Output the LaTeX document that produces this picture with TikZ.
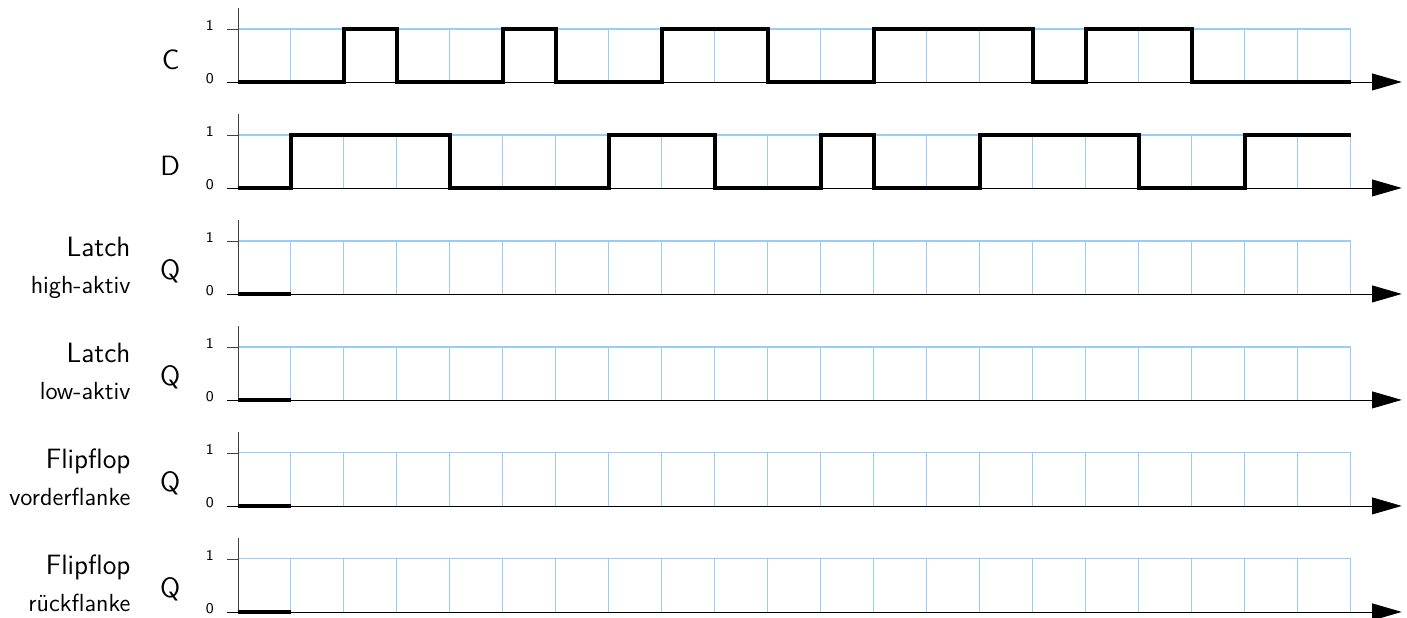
\documentclass[tikz,border=0pt]{standalone}
\usepackage{fontspec}
\usepackage{xcolor}
\usepackage{tikz}
\usetikzlibrary{arrows.meta}
\renewcommand{\familydefault}{\sfdefault}
\definecolor{gridblue}{RGB}{150,205,250}
\tikzset{
  timeaxis/.style={-{Triangle[length=5.6mm, width=3.2mm]}, thin, black},
  levelaxis/.style={thin, black!75},
  gridline/.style={gridblue, line width=0.6pt},
  signal/.style={line width=1.9pt, black},
  lvl/.style={font=\footnotesize, anchor=east, inner sep=0pt},
  sig/.style={font=\fontsize{15}{18}\selectfont},
  kind/.style={font=\fontsize{15}{18}\selectfont, anchor=base east, inner sep=0pt},
  kindsub/.style={font=\fontsize{13.3}{16}\selectfont, anchor=base east, inner sep=0pt},
}
% one empty timing row: grid, axes and the levels 0/1
\newcommand{\timingrow}[2]{%
  \begin{scope}[yshift=#1 cm]
    \foreach \t in {1,...,21} \draw[gridline] (\t,0) -- (\t,1);
    \draw[gridline] (0,1) -- (21,1);
    \draw[levelaxis] (-0.2,1) -- (0,1);
    \draw[levelaxis] (0,0) -- (0,1.4);
    \draw[timeaxis] (-0.2,0) -- (21.96,0);
    \node[lvl] (#2one) at (-0.45,1.07) {1};
    \node[lvl] (#2zero) at (-0.45,0.07) {0};
  \end{scope}}

\begin{document}
\begin{tikzpicture}
\useasboundingbox (-4.49,-0.113) rectangle (22.06,11.547);

\foreach \y/\n in {10/clk, 8/dat, 6/lhi, 4/llo, 2/fvo, 0/fru}{
  \timingrow{\y}{\n}
}

% inputs
\node[sig] (clk) at (-1.27,10.42) {C};
\node[sig] (dat) at (-1.28,8.42) {D};
\draw[signal] (0,10) -| (2,11) -| (3,10) -| (5,11) -| (6,10) -| (8,11) -| (10,10)
  -| (12,11) -| (15,10) -| (16,11) -| (18,10) -- (21,10);
\draw[signal] (0,8) -| (1,9) -| (4,8) -| (7,9) -| (9,8) -| (11,9) -| (12,8)
  -| (14,9) -| (17,8) -| (19,9) -- (21,9);

% outputs
\foreach \y/\n/\a/\b in {6/lhi/Latch/high-aktiv, 4/llo/Latch/low-aktiv,
    2/fvo/Flipflop/vorderflanke, 0/fru/Flipflop/rückflanke}{
  \node[sig] (\n q) at (-1.28,\y+0.42) {Q};
  \node[kind] (\n name) at (-2.02,\y+0.70) {\a};
  \node[kindsub] (\n sub) at (-2.02,\y) {\b};
  \draw[signal] (0,\y) -- (1,\y);
}
\end{tikzpicture}
\end{document}
